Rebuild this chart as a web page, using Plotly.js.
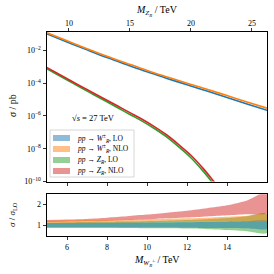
<!DOCTYPE html>
<html><head><meta charset="utf-8">
<script src="https://cdn.plot.ly/plotly-3.0.1.min.js"></script>
<style>html,body{margin:0;padding:0;background:#fff}#chart{width:274px;height:274px}</style>
</head><body><div id="chart"></div>
<script>
// W_R masses (TeV) and cross sections (pb)
const mW = [5,6,7,8,9,10,11,12,13,14,15,16];
const sigmaW_LO  = [1.0e-1,3.24e-2,1.07e-2,3.63e-3,1.32e-3,4.9e-4,1.95e-4,7.9e-5,3.3e-5,1.35e-5,5.4e-6,2.2e-6];
const sigmaW_NLO = [1.17e-1,3.82e-2,1.27e-2,4.36e-3,1.60e-3,5.98e-4,2.40e-4,9.9e-5,4.2e-5,1.74e-5,7.1e-6,2.97e-6];
// Z_R masses (TeV) and cross sections (pb)
const mZ = [8,9,10,11,12,13,14,15,16,17,18,19,20,21,22,23];
const sigmaZ_NLO = [1.07e-3,4.17e-4,1.62e-4,6.3e-5,2.5e-5,1.0e-5,4.0e-6,1.58e-6,6.3e-7,2.24e-7,7.1e-8,1.78e-8,4.0e-9,6.3e-10,7.9e-11,1.0e-11];
const sigmaZ_LO  = [8.9e-4,3.47e-4,1.34e-4,5.16e-5,2.03e-5,8.06e-6,3.17e-6,1.23e-6,4.85e-7,1.70e-7,5.26e-8,1.29e-8,2.82e-9,4.3e-10,5.3e-11,6.5e-12];
// ratio bands sigma/sigma_LO vs M_WR
const bandW_LO_lo  = [0.89,0.89,0.89,0.89,0.88,0.88,0.88,0.87,0.86,0.85,0.84,0.82];
const bandW_LO_hi  = [1.10,1.10,1.11,1.11,1.12,1.12,1.13,1.14,1.15,1.16,1.18,1.20];
const bandW_NLO_lo = [1.09,1.10,1.11,1.12,1.13,1.14,1.15,1.16,1.17,1.18,1.19,1.21];
const bandW_NLO_hi = [1.22,1.23,1.24,1.25,1.27,1.29,1.31,1.33,1.36,1.40,1.45,1.52];
const bandZ_LO_lo  = [0.85,0.85,0.85,0.85,0.85,0.84,0.84,0.83,0.80,0.76,0.70,0.62];
const bandZ_LO_hi  = [1.13,1.14,1.15,1.16,1.17,1.19,1.21,1.24,1.28,1.34,1.43,1.56];
const bandZ_NLO_lo = [1.15,1.16,1.18,1.20,1.24,1.28,1.33,1.37,1.42,1.48,1.53,1.59];
const bandZ_NLO_hi = [1.25,1.27,1.30,1.36,1.43,1.51,1.60,1.70,1.82,1.96,2.20,2.60];
// tick labels
const yTickVals = [1e-10,1e-8,1e-6,1e-4,1e-2];
const yTickText = ['10<sup>−10</sup>','10<sup>−8</sup>','10<sup>−6</sup>','10<sup>−4</sup>','10<sup>−2</sup>'];
const xTickVals = [6,8,10,12,14];
const zTickVals = [10,15,20,25];
const labels = ['<i>pp</i> → <i>W</i><sup>±</sup><sub><i>R</i></sub>, LO','<i>pp</i> → <i>W</i><sup>±</sup><sub><i>R</i></sub>, NLO','<i>pp</i> → <i>Z<sub>R</sub></i>, LO','<i>pp</i> → <i>Z<sub>R</sub></i>, NLO'];

const C = ['#1f77b4','#ff7f0e','#2ca02c','#d62728'];
const CA = ['rgba(31,119,180,0.5)','rgba(255,127,14,0.5)','rgba(44,160,44,0.5)','rgba(214,39,40,0.5)'];
const CL = ['#8fbbd9','#ffbf86','#95cf95','#ea9393'];

function band(lo, hi, i){
  return {x: mW.concat(mW.slice().reverse()), y: lo.concat(hi.slice().reverse()),
    xaxis:'x', yaxis:'y2', type:'scatter', mode:'lines', fill:'toself', fillcolor:CA[i],
    line:{width:0, shape:'spline', smoothing:0.8}, hoverinfo:'skip'};
}
const traces = [
  {x:mW, y:sigmaW_LO, xaxis:'x3', yaxis:'y', mode:'lines', line:{color:C[0], width:1.6, shape:'spline'}},
  {x:mW, y:sigmaW_NLO, xaxis:'x3', yaxis:'y', mode:'lines', line:{color:C[1], width:1.6, shape:'spline'}},
  {x:mZ, y:sigmaZ_LO, xaxis:'x2', yaxis:'y', mode:'lines', line:{color:C[2], width:1.6, shape:'spline'}},
  {x:mZ, y:sigmaZ_NLO, xaxis:'x2', yaxis:'y', mode:'lines', line:{color:C[3], width:1.6, shape:'spline'}},
  band(bandZ_LO_lo, bandZ_LO_hi, 2),
  band(bandZ_NLO_lo, bandZ_NLO_hi, 3),
  band(bandW_LO_lo, bandW_LO_hi, 0),
  band(bandW_NLO_lo, bandW_NLO_hi, 1)
];

const W = 274, H = 274;
const fx = p => p / W, fy = p => 1 - p / H;
const L = 47, R = 267, mainTop = 32, mainBot = 181.5, lowTop = 194.3, lowBot = 235.7;
const axBase = {showline:true, linecolor:'#000', linewidth:1, ticks:'outside', ticklen:3.5, tickwidth:0.8, tickcolor:'#000', showgrid:false, zeroline:false, tickfont:{size:8}};

const shapes = [], annotations = [];
function ann(px, py, text, size, extra){
  annotations.push(Object.assign({xref:'paper', yref:'paper', x:fx(px), y:fy(py), xanchor:'center', yanchor:'middle',
    text:text, showarrow:false, font:{size:size}}, extra || {}));
}
// legend frame
shapes.push({type:'rect', xref:'paper', yref:'paper', x0:fx(50), x1:fx(134), y0:fy(177), y1:fy(130),
  line:{color:'#cccccc', width:0.8}, fillcolor:'rgba(255,255,255,0.8)', layer:'above'});
const legY = [138, 149, 160, 171];
legY.forEach((yy, i) => {
  shapes.push({type:'rect', xref:'paper', yref:'paper', x0:fx(53), x1:fx(70), y0:fy(yy+3), y1:fy(yy-3),
    line:{width:0}, fillcolor:CL[i], layer:'above'});
  ann(75, yy, labels[i], 7.5, {xanchor:'left'});
});
ann(93, 118, '√<i>s</i> = 27 TeV', 8.5);
ann(157, 11, '<i>M</i><sub><i>Z</i><sub><i>R</i></sub></sub> / TeV', 10);
ann(157, 261, '<i>M</i><sub><i>W</i><sub><i>R</i></sub><sup>±</sup></sub> / TeV', 10);
ann(12, 106, '<i>σ</i> / pb', 10, {textangle:-90});
ann(12, 215, '<i>σ</i> / <i>σ</i><sub>LO</sub>', 9, {textangle:-90});

const layout = {
  width:W, height:H, margin:{l:0,r:0,t:0,b:0}, paper_bgcolor:'#fff', plot_bgcolor:'#fff', showlegend:false,
  font:{family:'Liberation Serif, serif', size:8, color:'#000'},
  xaxis: Object.assign({}, axBase, {domain:[fx(L),fx(R)], range:[5,16], anchor:'y2', tickvals:xTickVals, mirror:true}),
  xaxis3: Object.assign({}, axBase, {domain:[fx(L),fx(R)], range:[5,16], anchor:'y', tickvals:xTickVals, showticklabels:false}),
  xaxis2: Object.assign({}, axBase, {overlaying:'x3', side:'top', anchor:'y', range:[8.2,26.24], tickvals:zTickVals, ticklabelstandoff:-2}),
  yaxis: Object.assign({}, axBase, {domain:[fy(mainBot),fy(mainTop)], type:'log', range:[-10,-0.88], anchor:'x3', tickvals:yTickVals, ticktext:yTickText, mirror:true}),
  yaxis2: Object.assign({}, axBase, {domain:[fy(lowBot),fy(lowTop)], range:[0.48,2.5], anchor:'x', tickvals:[1,2], mirror:true}),
  shapes: shapes, annotations: annotations
};
Plotly.newPlot('chart', traces, layout, {staticPlot:true, displayModeBar:false});
</script></body></html>
